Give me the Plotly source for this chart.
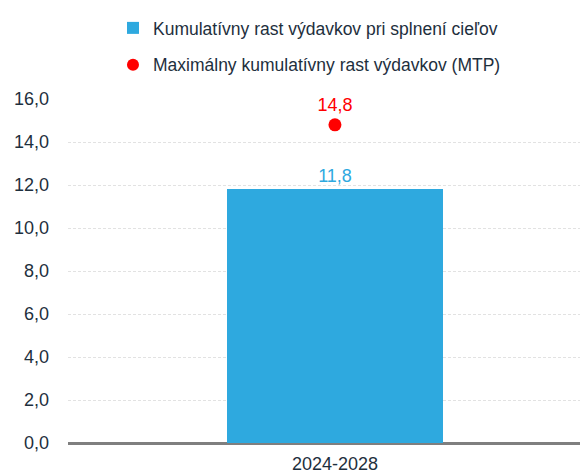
import plotly.graph_objects as go

categories = ["2024-2028"]
bar_values = [11.8]
dot_values = [14.8]
bar_name = "Kumulatívny rast výdavkov pri splnení cieľov"
dot_name = "Maximálny kumulatívny rast výdavkov (MTP)"
y_ticks = [0, 2, 4, 6, 8, 10, 12, 14, 16]
y_tick_labels = [f"{v:.1f}".replace(".", ",") for v in y_ticks]

BLUE = "#2EA9DF"
RED = "#FF0000"
TXT = "#1E2F3D"
FONT = "Liberation Sans, Arial, sans-serif"

fig = go.Figure()
fig.add_trace(go.Bar(
    x=categories, y=bar_values, name=bar_name, width=0.403,
    marker=dict(color=BLUE, line=dict(width=0)),
    text=[f"{v:.1f}".replace(".", ",") for v in bar_values],
    textposition="outside", textfont=dict(color=BLUE, size=18, family=FONT),
    cliponaxis=False, legendgroup="a",
))
fig.add_trace(go.Scatter(
    x=categories, y=dot_values, name=dot_name, mode="markers+text",
    marker=dict(color=RED, size=13),
    text=[f"{v:.1f}".replace(".", ",") for v in dot_values],
    textposition="top center", textfont=dict(color=RED, size=18, family=FONT),
    cliponaxis=False, legendgroup="b",
))

# page body has an 8px default margin: figure sized to fill the rest of the window
fig.update_layout(
    width=580, height=467,
    margin=dict(l=60, r=0, t=91, b=32),
    paper_bgcolor="white", plot_bgcolor="white",
    font=dict(family=FONT, size=18, color=TXT),
    showlegend=True,
    legend=dict(x=0.0865, xref="paper", y=0.9957, yref="container", yanchor="top",
                xanchor="left", orientation="v", traceorder="grouped",
                tracegroupgap=11, font=dict(size=17.5, color=TXT),
                itemsizing="constant", bgcolor="rgba(0,0,0,0)"),
    bargap=0,
    xaxis=dict(range=[-0.5, 0.474], showgrid=False, showline=False, ticks="",
               tickfont=dict(size=18, color=TXT), zeroline=False,
               ticklabelstandoff=8),
    yaxis=dict(range=[0, 16], tickvals=y_ticks, ticktext=y_tick_labels,
               showgrid=True, gridcolor="#E2E2E2", griddash="3px,2px", gridwidth=1,
               zeroline=True, zerolinecolor="#7F7F7F", zerolinewidth=2.5,
               showline=False, ticks="", ticklabelstandoff=18,
               tickfont=dict(size=18, color=TXT)),
)

fig.write_html("out.html")
